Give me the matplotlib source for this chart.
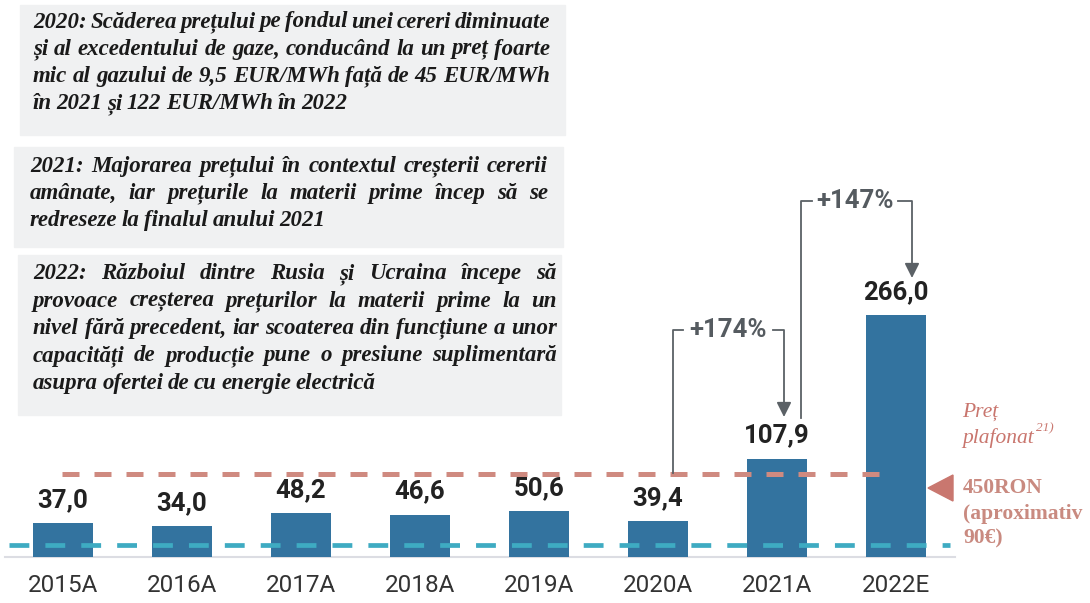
import matplotlib.pyplot as plt
from matplotlib.patches import Rectangle, Polygon, FancyArrowPatch

# data
years = ['2015A', '2016A', '2017A', '2018A', '2019A', '2020A', '2021A', '2022E']
prices = [37.0, 34.0, 48.2, 46.6, 50.6, 39.4, 107.9, 266.0]
cap_price = 91          # pret plafonat (450 RON ~ 90 EUR)
low_line = 13           # teal reference line
growth = [('+174%', 5, 6), ('+147%', 6, 7)]

box_texts = [
    ["2020: Scăderea prețului pe fondul unei cereri diminuate",
     "și al excedentului de gaze, conducând la un preț foarte",
     "mic al gazului de 9,5 EUR/MWh față de 45 EUR/MWh",
     "în 2021 și 122 EUR/MWh în 2022"],
    ["2021: Majorarea prețului în contextul creșterii cererii",
     "amânate, iar prețurile la materii prime încep să se",
     "redreseze la finalul anului 2021"],
    ["2022: Războiul dintre Rusia și Ucraina începe să",
     "provoace creșterea prețurilor la materii prime la un",
     "nivel fără precedent, iar scoaterea din funcțiune a unor",
     "capacități de producție pune o presiune suplimentară",
     "asupra ofertei de cu energie electrică"],
]

W, H = 1090, 603
fig = plt.figure(figsize=(W / 100, H / 100), dpi=100)
ax = fig.add_axes([0, 0, 1, 1])
ax.axis('off')

# pixel -> data mapping (x0 at 63px, 119px per bar; baseline 557px, 0.91px per unit)
X0, DX, Y0, DY = 63, 119, 557, 0.91
ax.set_xlim(-X0 / DX, (W - X0) / DX)
ax.set_ylim(-(H - Y0) / DY, Y0 / DY)

def dx(px):
    return (px - X0) / DX

def dy(py):
    return (Y0 - py) / DY

def fp(x, y):
    return x / W, 1 - y / H

bar_col = '#33739f'
red = '#cf8a80'
teal = '#3eabc2'
gray = '#5b6166'

idx = list(range(len(years)))
ax.bar(idx, prices, width=0.5, color=bar_col, zorder=2)
for i, v in zip(idx, prices):
    ax.annotate(f'{v:.1f}'.replace('.', ','), (i, v), xytext=(0, 8),
                textcoords='offset points', ha='center', va='bottom',
                fontsize=18.5, fontweight='bold', color='#222222',
                family='Roboto')
    ax.text(i, dy(585), years[i], ha='center', va='center', fontsize=17.5,
            color='#333333', family='Roboto')

ax.plot([dx(5), dx(955)], [0, 0], color='#dcdde3', lw=1.5, zorder=1)
ax.plot([dx(62), dx(890)], [cap_price, cap_price], color=red, lw=3.6,
        dashes=(3.4, 3.0), zorder=3)
ax.plot([dx(9), dx(950)], [low_line, low_line], color=teal, lw=3.4,
        dashes=(4.2, 3.4), zorder=3)

# growth brackets
brackets = [(673, 330, 683, 773, 784, 417, 473),
            (801, 201, 812, 898, 912, 278, 418)]
for (lab, a, b), (xl, ytop, xg1, xg2, xr, ytip, ybot) in zip(growth, brackets):
    ax.plot([dx(xl), dx(xl), dx(xg1)], [dy(ybot), dy(ytop), dy(ytop)],
            color=gray, lw=1.3, zorder=4)
    ax.plot([dx(xg2), dx(xr), dx(xr)], [dy(ytop), dy(ytop), dy(ytip - 12)],
            color=gray, lw=1.3, zorder=4)
    ax.add_patch(FancyArrowPatch((dx(xr), dy(ytip - 14)), (dx(xr), dy(ytip)),
                                 arrowstyle='-|>', mutation_scale=22,
                                 color=gray, lw=1.3, shrinkA=0, shrinkB=0))
    ax.text((dx(xg1) + dx(xg2)) / 2, dy(ytop), lab, ha='center', va='center',
            fontsize=18.5, fontweight='bold', color='#555b60', family='Roboto')

# text boxes
fig.canvas.draw()
renderer = fig.canvas.get_renderer()
boxes = [(20, 5, 545, 130, 33, 550, 22),
         (14, 147, 549, 100, 30, 548, 166),
         (18, 255, 543, 160, 33, 557, 274)]
line_h = 27.3
for lines, (bx, by, bw, bh, tx0, tx1, ty) in zip(box_texts, boxes):
    fig.add_artist(Rectangle(fp(bx, by + bh), bw / W, bh / H,
                             transform=fig.transFigure, color='#f0f1f2',
                             zorder=0))
    for k, line in enumerate(lines):
        y = ty + k * line_h
        words = line.split(' ')
        arts = []
        for w in words:
            t = fig.text(0, 0, w, fontsize=16.5, family='Liberation Serif',
                         style='italic', fontweight='bold', color='#1a1a1a',
                         va='center', ha='left')
            arts.append(t)
        widths = [t.get_window_extent(renderer).width for t in arts]
        space = 4.5
        if k < len(lines) - 1 and len(words) > 1:
            space = (tx1 - tx0 - sum(widths)) / (len(words) - 1)
        x = tx0
        for t, w in zip(arts, widths):
            t.set_position(fp(x, y))
            x += w + space

# right-side annotation
fig.add_artist(Polygon([fp(928, 488), fp(953, 475), fp(953, 501)],
                       closed=True, transform=fig.transFigure, color='#c9776f'))
fig.text(*fp(962, 412), 'Preț', fontsize=15.5, family='Liberation Serif',
         style='italic', color='#c9766e', va='center')
fig.text(*fp(962, 438), 'plafonat', fontsize=15.5, family='Liberation Serif',
         style='italic', color='#c9766e', va='center')
fig.text(*fp(1036, 428), '21)', fontsize=9.5, family='Liberation Serif',
         style='italic', color='#c9766e', va='center')
for yy, s in zip([488, 514, 538], ['450RON', '(aproximativ', '90€)']):
    fig.text(*fp(963, yy), s, fontsize=15.5, family='Liberation Serif',
             fontweight='bold', color='#c98a80', va='center')

fig.savefig('out.png', dpi=100)
